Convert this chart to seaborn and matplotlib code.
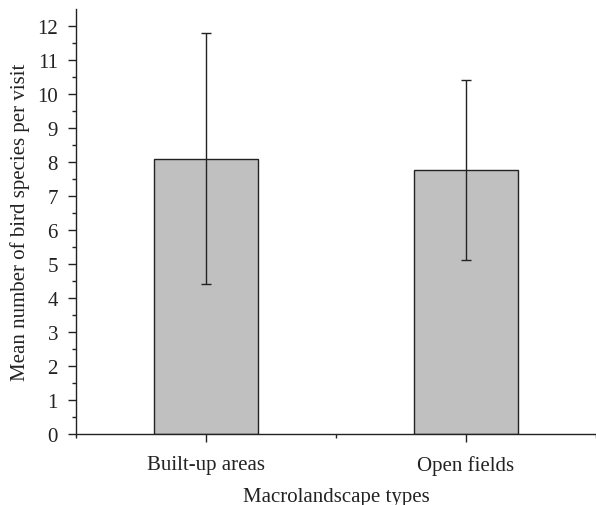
import pandas as pd
import matplotlib.pyplot as plt
import seaborn as sns

# data
categories = ["Built-up areas", "Open fields"]
means = [8.1, 7.77]
errors = [3.7, 2.65]

df = pd.DataFrame({"Type": categories, "Mean": means})

sns.set_style("ticks")
plt.rcParams["font.family"] = ["Liberation Serif", "DejaVu Serif"]

fig = plt.figure(figsize=(5.96, 5.06), dpi=100)
ax = fig.add_axes([76 / 596, 71 / 506, 1 - 76 / 596, 425 / 506])

sns.barplot(data=df, x="Type", y="Mean", color="#c0c0c0", edgecolor="#222222",
            linewidth=1.0, width=0.4, errorbar=None, ax=ax, saturation=1)
ax.errorbar(x=list(range(len(categories))), y=means, yerr=errors, fmt="none",
            ecolor="#222222", elinewidth=1.0, capsize=3.5, capthick=1.0)

ax.set_xlim(-0.5, 1.5)
ax.set_ylim(0, 12.5)
ax.set_yticks(range(0, 13))
ax.set_yticks([i + 0.5 for i in range(12)], minor=True)
ax.set_xticks([-0.5, 0.5, 1.5], minor=True)

sns.despine(ax=ax)
for s in ["left", "bottom"]:
    ax.spines[s].set_color("#222222")
    ax.spines[s].set_linewidth(1.0)

ax.tick_params(axis="both", which="major", direction="out", length=6, width=1,
               color="#222222", labelsize=15, labelcolor="#222222")
ax.tick_params(axis="x", which="major", pad=9)
ax.tick_params(axis="y", which="major", pad=7)
ax.tick_params(axis="both", which="minor", direction="out", length=3, width=1,
               color="#222222")

ax.set_xlabel("Macrolandscape types", fontsize=15, color="#222222", labelpad=9)
ax.set_ylabel("Mean number of bird species per visit", fontsize=15,
              color="#222222", labelpad=5)

plt.savefig("out.png", dpi=100)
